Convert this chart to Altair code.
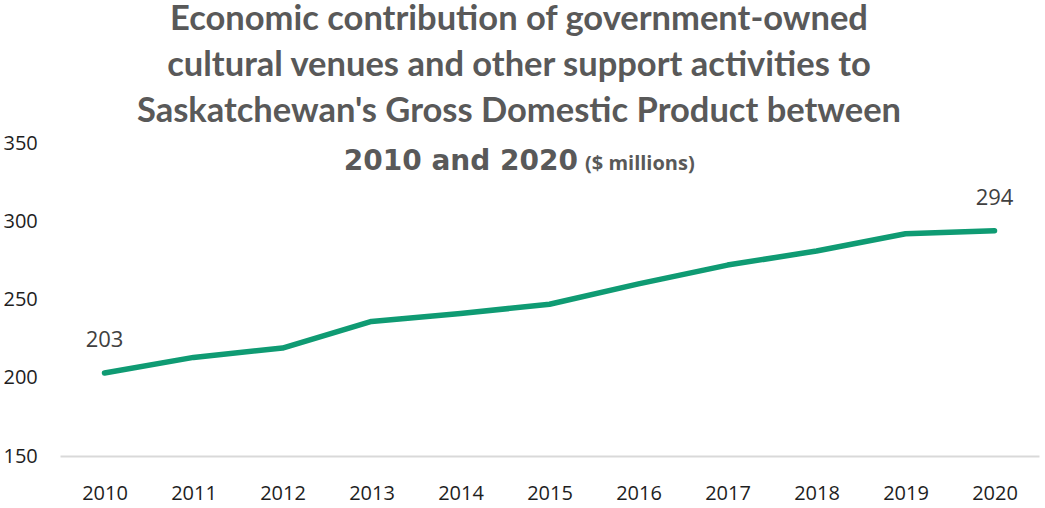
import altair as alt
import pandas as pd

years = ["2010", "2011", "2012", "2013", "2014", "2015", "2016", "2017", "2018", "2019", "2020"]
gdp = [203, 213, 219, 236, 241, 247, 260, 272, 281, 292, 294]
y_ticks = [150, 200, 250, 300, 350]

title_lines = [
    "Economic contribution of government-owned",
    "cultural venues and other support activities to",
    "Saskatchewan's Gross Domestic Product between",
]
title_line4a = "2010 and 2020"
title_line4b = "($ millions)"

df = pd.DataFrame({"year": years, "value": gdp})
df["label"] = [str(v) if i in (0, len(gdp) - 1) else "" for i, v in enumerate(gdp)]

GREEN = "#0f9b73"
TITLE_C = "#595959"

base = alt.Chart(df)

x_enc = alt.X(
    "year:O",
    sort=years,
    title=None,
    axis=alt.Axis(
        labelAngle=0,
        labelFontSize=20,
        labelFont="Open Sans",
        labelColor="#1e1e1e",
        labelPadding=27,
        ticks=False,
        tickSize=0,
        domain=True,
        domainColor="#d9d9d9",
        domainWidth=2,
        grid=False,
    ),
)
y_enc = alt.Y(
    "value:Q",
    title=None,
    scale=alt.Scale(domain=[150, 350], nice=False, zero=False),
    axis=alt.Axis(
        values=y_ticks,
        labelAlign="left",
        labelPadding=57,
        ticks=False,
        tickSize=0,
        domain=False,
        grid=False,
        labelFontSize=20,
        labelFont="Open Sans",
        labelColor="#1e1e1e",
    ),
)

line = base.mark_line(color=GREEN, strokeWidth=5.5, strokeCap="round", strokeJoin="round").encode(
    x=x_enc, y=y_enc
)

labels = base.mark_text(dy=-33, fontSize=22, font="Open Sans", color="#404040").encode(
    x=alt.X("year:O", sort=years), y="value:Q", text="label:N"
)

one = alt.Data(values=[{"a": 1}])
CX = 459     # title centre relative to plot left
SPLIT = 521  # join point of the two pieces of the last title line
baselines = [-113, -67, -21]

title_layers = []
for t, b in zip(title_lines, baselines):
    title_layers.append(
        alt.Chart(one)
        .mark_text(
            text=t,
            font="Lato",
            fontWeight="bold",
            fontSize=34.5,
            color=TITLE_C,
            align="center",
            baseline="alphabetic",
        )
        .encode(x=alt.value(CX), y=alt.value(b))
    )

title_layers.append(
    alt.Chart(one)
    .mark_text(
        text=title_line4a,
        font="DejaVu Sans",
        fontWeight="bold",
        fontSize=28,
        color=TITLE_C,
        align="right",
        baseline="alphabetic",
    )
    .encode(x=alt.value(SPLIT - 3), y=alt.value(27))
)
title_layers.append(
    alt.Chart(one)
    .mark_text(
        text=title_line4b,
        font="Open Sans",
        fontWeight="bold",
        fontSize=20,
        color=TITLE_C,
        align="left",
        baseline="alphabetic",
    )
    .encode(x=alt.value(SPLIT + 4), y=alt.value(27))
)

chart = (
    alt.layer(line, labels, *title_layers)
    .properties(
        width=979,
        height=313,
        background="white",
        autosize=alt.AutoSizeParams(type="none"),
        padding={"left": 60, "top": 143, "right": 6, "bottom": 52},
    )
    .configure_view(strokeWidth=0, stroke="transparent")
)

chart.save("out.html", embed_options={"renderer": "svg", "actions": False})
